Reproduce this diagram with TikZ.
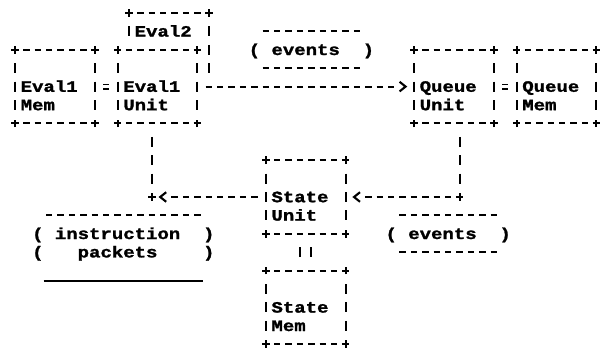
\documentclass[tikz,border=0pt]{standalone}
\usepackage{fontspec}
\newfontfamily\ascfont[FakeStretch=1.2,FakeBold=1.5,UprightFont={* Bold}]{Liberation Mono}
\usetikzlibrary{calc}
\newcommand\csp{\hspace{11.4pt}}
\tikzset{
  ink/.style={line width=2.1pt, black},
  hd/.style={ink, dash pattern=on 6.4pt off 5pt, shorten <=8.2pt, shorten >=8.2pt},
  vd/.style={ink, dash pattern=on 10pt off 8.4pt, shorten <=13.4pt, shorten >=13.4pt},
  boxn/.style={draw=none, fill=white, inner sep=0pt, outer sep=0pt, minimum width=79.8pt, minimum height=73.6pt},
  txt/.style={anchor=base west, inner sep=0pt, outer sep=0pt, font={\ascfont\fontsize{15.83pt}{18.4pt}\selectfont}},
  eqd/.style={double, double distance=2.4pt, line width=1.7pt, shorten <=8.2pt, shorten >=8.2pt},
  plus/.pic={\draw[ink] (-3.8pt,0) -- (3.8pt,0) (0,-3.8pt) -- (0,3.8pt);},
  ltip/.pic={\draw[ink] (3pt,4.8pt) -- (-3pt,0) -- (3pt,-4.8pt);},
  rtip/.pic={\draw[ink] (-3pt,4.8pt) -- (3pt,0) -- (-3pt,-4.8pt);},
}
\newcommand\abox[1]{%
  \draw[hd] (#1.north west) -- (#1.north east);
  \draw[hd] (#1.south west) -- (#1.south east);
  \draw[vd] (#1.north west) -- (#1.south west);
  \draw[vd] (#1.north east) -- (#1.south east);
  \pic at (#1.north west) {plus};
  \pic at (#1.north east) {plus};
  \pic at (#1.south west) {plus};
  \pic at (#1.south east) {plus};
}
\newcommand\tx[4]{\node[txt] (#1) at ($(#2,#3)+(-5.7pt,-5.2pt)$) {#4};}
\begin{document}
\begin{tikzpicture}[x=11.4pt, y=-18.4pt, shift={(15pt,-13pt)}]
\fill[white] (-1.31579,-0.70652) rectangle (51.3158,18.2065);
\useasboundingbox (-1.31579,-0.70652) rectangle (51.3158,18.2065);

% Eval2 (behind Eval1 Unit)
\node[boxn] (e2) at (13.5,2) {};
\draw[hd] (e2.north west) -- (e2.north east);
\draw[ink] ($(e2.north west)+(0,-13.4pt)$) -- ++(0,-10pt);
\draw[vd] (e2.north east) -- (e2.south east);
\pic at (e2.north west) {plus};
\pic at (e2.north east) {plus};
\tx{e2t}{11}{1}{Eval2}

% boxes
\node[boxn] (em) at (3.5,4) {};
\abox{em}
\node[boxn] (eu) at (12.5,4) {};
\abox{eu}
\node[boxn] (qu) at (38.5,4) {};
\abox{qu}
\node[boxn] (qm) at (47.5,4) {};
\abox{qm}
\node[boxn] (su) at (25.5,10) {};
\abox{su}
\node[boxn] (sm) at (25.5,16) {};
\abox{sm}

\tx{emt1}{1}{4}{Eval1}
\tx{emt2}{1}{5}{Mem}
\tx{eut1}{10}{4}{Eval1}
\tx{eut2}{10}{5}{Unit}
\tx{qut1}{36}{4}{Queue}
\tx{qut2}{36}{5}{Unit}
\tx{qmt1}{45}{4}{Queue}
\tx{qmt2}{45}{5}{Mem}
\tx{sut1}{23}{10}{State}
\tx{sut2}{23}{11}{Unit}
\tx{smt1}{23}{16}{State}
\tx{smt2}{23}{17}{Mem}

% labels
\tx{ev1}{21}{2}{(\csp events\csp\csp)}
\draw[hd] (21,1) -- (31,1);
\draw[hd] (21,3) -- (31,3);
\tx{ev2}{33}{12}{(\csp events\csp\csp)}
\draw[hd] (33,11) -- (43,11);
\draw[hd] (33,13) -- (43,13);
\tx{ip1}{2}{12}{(\csp instruction\csp\csp)}
\tx{ip2}{2}{13}{(\csp\csp\csp packets\csp\csp\csp\csp)}
\draw[hd] (2,11) -- (17,11);
\draw[ink] ($(2.5,14)+(0,-10pt)$) -- ($(16.5,14)+(0,-10pt)$);

% connectors
\draw[eqd] (em.east) -- (eu.west);
\draw[eqd] (qu.east) -- (qm.west);

\draw[hd, shorten >=19.6pt] (eu.east) -- (qu.west);
\pic at ($(qu.west)+(-11.4pt,0)$) {rtip};

\coordinate (j2) at (39,10);
\draw[vd] (qu.south -| j2) -- (j2);
\draw[hd, shorten <=19.6pt] (su.east) -- (j2);
\pic at (j2) {plus};
\pic at ($(su.east)+(11.4pt,0)$) {ltip};

\coordinate (j1) at (12,10);
\draw[vd] (eu.south -| j1) -- (j1);
\draw[hd, shorten <=19.6pt] (j1) -- (su.west);
\pic at (j1) {plus};
\pic at ($(j1)+(11.4pt,0)$) {ltip};

\draw[vd] ($(su.south)+(-5.7pt,0)$) -- ($(sm.north)+(-5.7pt,0)$);
\draw[vd] ($(su.south)+(5.7pt,0)$) -- ($(sm.north)+(5.7pt,0)$);
\end{tikzpicture}
\end{document}
